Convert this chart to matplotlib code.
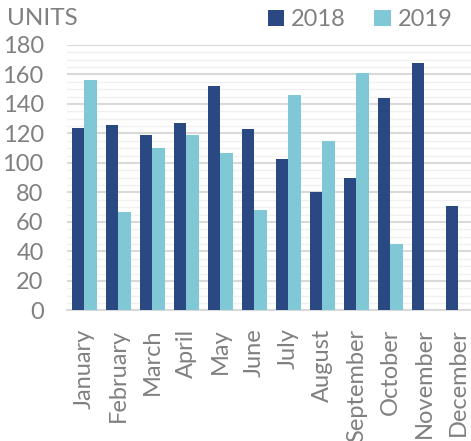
import numpy as np
import matplotlib
matplotlib.use("Agg")
import matplotlib.pyplot as plt
from matplotlib.ticker import MultipleLocator

# data
months = ["January", "February", "March", "April", "May", "June", "July",
          "August", "September", "October", "November", "December"]
units_2018 = [124, 126, 119, 127, 152, 123, 103, 80, 90, 144, 168, 71]
units_2019 = [156, 67, 110, 119, 107, 68, 146, 115, 161, 45, np.nan, np.nan]

dark = "#2a4881"
light = "#80c8d6"
grey = "#808080"

plt.rcParams["font.family"] = ["Lato", "DejaVu Sans"]

fig = plt.figure(figsize=(4.71, 4.41), dpi=100)
ax = fig.add_axes([0.143, 0.296, 0.866, 0.602])

x = np.arange(len(months))
w = 0.372
ax.bar(x - w / 2, units_2018, w, color=dark, label="2018", zorder=3)
ax.bar(x + w / 2, units_2019, w, color=light, label="2019", zorder=3)

ax.set_xlim(-0.5, len(months) - 0.5)
ax.set_ylim(0, 180)
ax.yaxis.set_major_locator(MultipleLocator(20))
ax.yaxis.set_minor_locator(MultipleLocator(5))
ax.grid(axis="y", which="major", color="#d9d9d9", linewidth=1.5, zorder=0)
ax.grid(axis="y", which="minor", color="#f0f0f0", linewidth=1.0, zorder=0)
ax.set_axisbelow(True)

for s in ["top", "right", "left"]:
    ax.spines[s].set_visible(False)
ax.spines["bottom"].set_color("#d9d9d9")
ax.spines["bottom"].set_linewidth(1.5)

ax.set_xticks(x)
ax.set_xticklabels(months, rotation=90, fontsize=17, color=grey)
ax.tick_params(axis="x", length=0, pad=13)
ax.tick_params(axis="y", which="both", length=0, pad=17, labelsize=17,
               labelcolor=grey)

fig.text(0.014, 0.957, "UNITS", fontsize=17.5, color=grey, va="center")
fig.legend(loc="center", bbox_to_anchor=(0.765, 0.955), ncol=2,
           frameon=False, fontsize=17, labelcolor=grey, handlelength=0.7,
           handleheight=0.7, handletextpad=0.3, columnspacing=1.2)

fig.savefig("out.png", dpi=100)
